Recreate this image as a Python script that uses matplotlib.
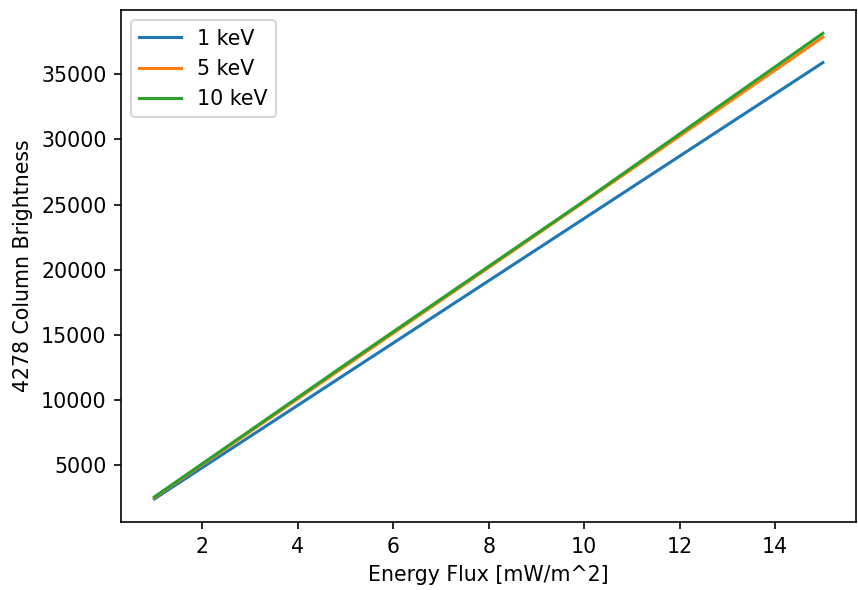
import matplotlib
matplotlib.use('Agg')
import matplotlib.pyplot as plt

flux = [1, 5, 10, 15]
bright_1kev = [2400, 11970, 23930, 35900]
bright_5kev = [2500, 12600, 25200, 37850]
bright_10kev = [2550, 12720, 25270, 38150]

fig = plt.figure(figsize=(858 / 148, 590 / 148), dpi=148)
ax = fig.add_axes([0.141, 0.115, 0.857, 0.868])
ax.plot(flux, bright_1kev, label='1 keV')
ax.plot(flux, bright_5kev, label='5 keV')
ax.plot(flux, bright_10kev, label='10 keV')
ax.set_xlabel('Energy Flux [mW/m^2]')
ax.set_ylabel('4278 Column Brightness')
ax.legend(loc='upper left')
fig.savefig('out.png', dpi=148)
